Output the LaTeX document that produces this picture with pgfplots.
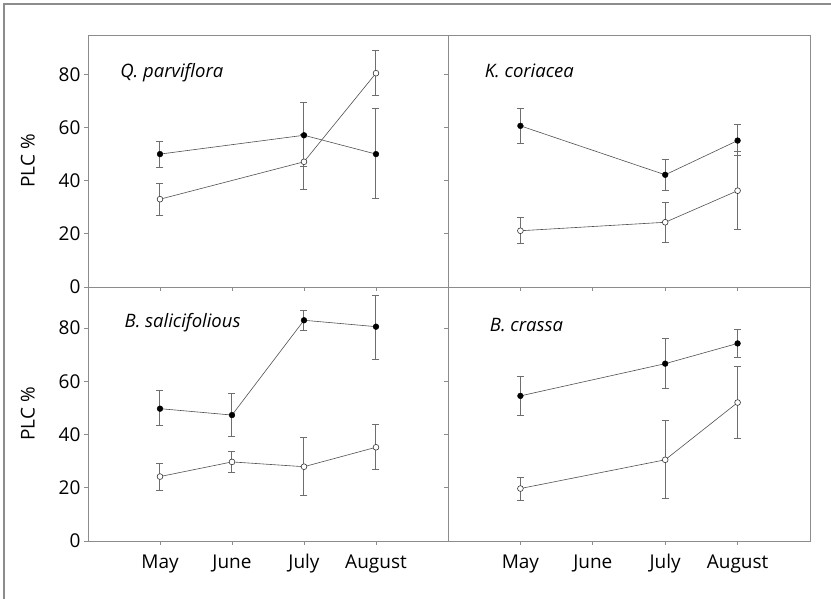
\documentclass[border=0pt]{standalone}
\usepackage{fontspec}
\setmainfont{Open Sans}
\usepackage{pgfplots}
\usepackage{pgfplotstable}
\pgfplotsset{compat=1.18}

% x y plus minus
\pgfplotstableread{
x y ep em
1 50.1 4.9 4.9
3 57.2 12.2 11.7
4 50.1 17.1 16.9
}\QpF
\pgfplotstableread{
x y ep em
1 33.1 6.1 6.2
3 47.2 10.3 10.3
4 80.6 8.6 8.4
}\QpO
\pgfplotstableread{
x y ep em
1 60.75 6.45 6.55
3 42.3 5.7 6.1
4 55.2 6.2 5.6
}\KcF
\pgfplotstableread{
x y ep em
1 21.2 5.0 4.9
3 24.4 7.6 7.8
4 36.3 14.8 14.7
}\KcO
\pgfplotstableread{
x y ep em
1 49.7 6.8 6.5
2 47.3 8.0 8.0
3 82.9 3.5 3.8
4 80.5 11.8 12.3
}\BsF
\pgfplotstableread{
x y ep em
1 24.2 4.8 5.2
2 29.7 3.9 3.8
3 27.9 10.9 10.7
4 35.2 8.4 8.5
}\BsO
\pgfplotstableread{
x y ep em
1 54.5 7.1 7.3
3 66.6 9.3 9.5
4 74.2 5.3 5.2
}\BcF
\pgfplotstableread{
x y ep em
1 19.7 4.3 4.4
3 30.5 14.6 14.7
4 52.0 13.4 13.4
}\BcO

\definecolor{axgray}{HTML}{8C8C8C}
\definecolor{errgray}{HTML}{6E6E6E}
\definecolor{lngray}{HTML}{505050}

\newcommand{\lblfont}{\fontsize{19}{21}\selectfont}
\newcommand{\spfont}{\fontsize{18.5}{21}\selectfont}

\pgfplotsset{
  panel/.style={
    scale only axis,
    width=360pt,
    xmin=0, xmax=5, ymin=0,
    xtick={1,2,3,4},
    ytick={0,20,40,60,80},
    xticklabels={May,June,July,August},
    tick align=outside,
    xtick pos=bottom, ytick pos=left,
    major tick length=4pt,
    axis line style={axgray, line width=0.9pt},
    tick style={axgray, line width=0.9pt},
    tick label style={font=\lblfont},
    /pgf/number format/assume math mode=true,
    label style={font=\lblfont},
    xticklabel style={yshift=-6pt},
  },
  filled/.style={
    lngray, line width=0.6pt,
    mark=*, mark size=2.9pt,
    mark options={fill=black, draw=black, line width=0.4pt},
    error bars/.cd, y dir=both, y explicit,
    error bar style={errgray, line width=1pt},
    error mark options={rotate=90, mark size=3.5pt, errgray, line width=1pt},
  },
  open/.style={
    lngray, line width=0.6pt,
    mark=*, mark size=2.9pt,
    mark options={fill=white, draw=black!80, line width=0.6pt},
    error bars/.cd, y dir=both, y explicit,
    error bar style={errgray, line width=1pt},
    error mark options={rotate=90, mark size=3.5pt, errgray, line width=1pt},
  },
}

\begin{document}
\begin{tikzpicture}[x=1pt,y=1pt]
\useasboundingbox (0,0) rectangle (831,599);

% top-left
\begin{axis}[panel, at={(88pt,312pt)}, anchor=south west, height=252pt, ymax=95,
  xticklabels={}, ylabel={PLC \%},
  ylabel style={at={(axis description cs:-0.167,0.5)}, anchor=center}]
\addplot[filled] table[x=x,y=y,y error plus=ep,y error minus=em]{\QpF};
\addplot[open] table[x=x,y=y,y error plus=ep,y error minus=em]{\QpO};
\node[anchor=base west, font=\spfont\itshape] at (axis cs:0.4,79) {Q. parviflora};
\end{axis}

% top-right
\begin{axis}[panel, at={(448pt,312pt)}, anchor=south west, width=362pt, height=252pt, ymax=95,
  xticklabels={}, yticklabels={}]
\addplot[filled] table[x=x,y=y,y error plus=ep,y error minus=em]{\KcF};
\addplot[open] table[x=x,y=y,y error plus=ep,y error minus=em]{\KcO};
\node[anchor=base west, font=\spfont\itshape] at (axis cs:0.46,79) {K. coriacea};
\end{axis}

% bottom-left
\begin{axis}[panel, at={(88pt,58pt)}, anchor=south west, height=254pt, ymax=95.4,
  ylabel={PLC \%},
  ylabel style={at={(axis description cs:-0.167,0.5)}, anchor=center}]
\addplot[filled] table[x=x,y=y,y error plus=ep,y error minus=em]{\BsF};
\addplot[open] table[x=x,y=y,y error plus=ep,y error minus=em]{\BsO};
\node[anchor=base west, font=\spfont\itshape] at (axis cs:0.46,80) {B. salicifolious};
\end{axis}

% bottom-right
\begin{axis}[panel, at={(448pt,58pt)}, anchor=south west, width=362pt, height=254pt, ymax=95.4,
  yticklabels={}]
\addplot[filled] table[x=x,y=y,y error plus=ep,y error minus=em]{\BcF};
\addplot[open] table[x=x,y=y,y error plus=ep,y error minus=em]{\BcO};
\node[anchor=base west, font=\spfont\itshape] at (axis cs:0.53,78.7) {B. crassa};
\end{axis}

% outer frame (cropped at right and bottom)
\draw[axgray, line width=1.3pt] (4,0) -- (4,595) -- (831,595);
\end{tikzpicture}
\end{document}
